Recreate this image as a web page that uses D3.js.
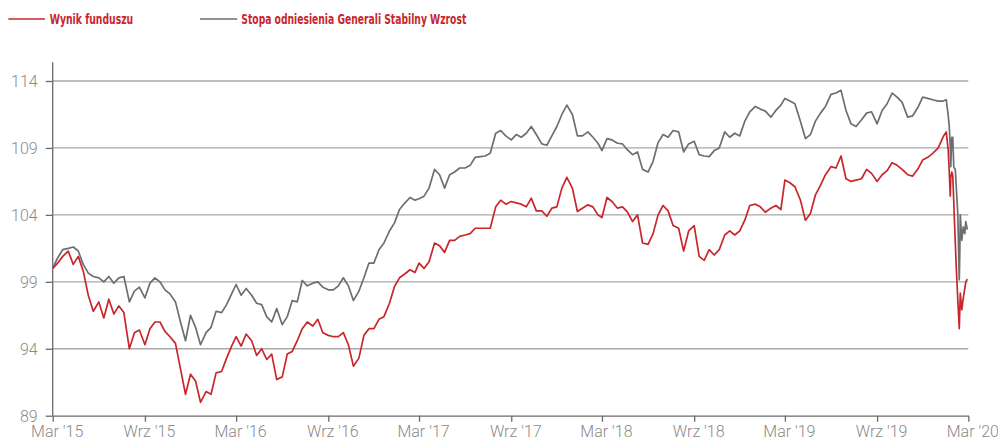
<!DOCTYPE html>
<html><head><meta charset="utf-8">
<script src="https://cdn.jsdelivr.net/npm/d3@7"></script>
<style>body{margin:0;background:#fff} svg{display:block}</style>
</head><body><svg id="c" width="998" height="441"></svg>
<script>
const seriesNames = ["Wynik funduszu", "Stopa odniesienia Generali Stabilny Wzrost"];
const yTicks = [89, 94, 99, 104, 109, 114];
const xTickDates = ["2015-03-01","2015-09-01","2016-03-01","2016-09-01","2017-03-01","2017-09-01","2018-03-01","2018-09-01","2019-03-01","2019-09-01","2020-03-01"];
const xTickLabels = ["Mar '15","Wrz '15","Mar '16","Wrz '16","Mar '17","Wrz '17","Mar '18","Wrz '18","Mar '19","Wrz '19","Mar '20"];
// sampling days within each month, Mar 2015 - Dec 2019
const sampleDays = [1, 11, 21];
const extraDates = ["2020-01-01","2020-01-11","2020-01-17","2020-01-21","2020-01-23","2020-01-25","2020-01-26","2020-01-28","2020-01-30","2020-02-01","2020-02-02","2020-02-04","2020-02-06","2020-02-09","2020-02-12","2020-02-13","2020-02-14","2020-02-17","2020-02-20","2020-02-23","2020-02-25","2020-02-28"];

const fund = [
100.0,100.4,100.9, 101.3,100.3,100.9, 99.8,98.0,96.8, 97.5,96.3,97.7, 96.6,97.2,96.7, 94.0,95.2,95.4,
94.3,95.5,96.0, 96.0,95.3,94.9, 94.4,92.5,90.6, 92.1,91.6,90.0, 90.8,90.6,92.2, 92.3,93.3,94.2,
94.9,94.2,95.1, 94.6,93.5,94.0, 93.2,93.6,91.7, 91.9,93.6,93.8, 94.6,95.5,96.0, 95.7,96.2,95.2,
95.0,94.9,94.9, 95.2,94.3,92.7, 93.3,95.0,95.5, 95.5,96.2,96.4, 97.4,98.65,99.3, 99.6,99.9,99.7,
100.4,100.0,100.5, 101.9,101.7,101.2, 102.1,102.1,102.4, 102.5,102.6,103.0, 103.0,103.0,103.0, 104.6,105.1,104.8,
105.0,104.9,104.8, 104.6,105.25,104.3, 104.3,103.9,104.5, 104.6,106.0,106.8, 106.0,104.25,104.5, 104.75,104.6,104.0,
103.8,105.3,105.0, 104.5,104.6,104.2, 103.5,104.0,101.9, 101.8,102.6,104.0, 104.7,104.3,103.2, 103.0,101.3,102.8,
103.2,100.9,100.6, 101.4,101.0,101.4, 102.5,102.8,102.5, 102.8,103.6,104.7, 104.8,104.6,104.2, 104.5,104.7,104.4,
106.6,106.4,106.1, 105.1,103.6,104.1, 105.5,106.2,107.0, 107.6,107.5,108.4, 106.7,106.5,106.6, 106.7,107.4,107.1,
106.5,107.0,107.3, 107.9,107.7,107.4, 107.0,106.9,107.4, 108.1,108.3,108.6,
109.0,109.85,110.2,108.8,107.2,105.4,106.8,107.2,106.9,105.0,103.9,102.0,100.1,97.7,95.5,96.8,98.15,96.9,97.8,98.5,99.0,99.2
];
const bench = [
100.0,100.8,101.4, 101.5,101.6,101.3, 100.3,99.65,99.4, 99.3,99.0,99.4, 98.9,99.3,99.4, 97.5,98.3,98.6,
97.8,98.9,99.3, 99.0,98.4,98.1, 97.5,96.0,94.6, 96.5,95.6,94.3, 95.2,95.6,96.8, 96.7,97.3,98.1,
98.8,98.0,98.5, 98.0,97.4,97.3, 96.4,96.0,97.0, 95.8,96.4,97.6, 97.5,99.1,98.7, 98.9,99.0,98.6,
98.4,98.4,98.7, 99.3,98.7,97.6, 98.3,99.3,100.4, 100.4,101.4,101.9, 102.8,103.4,104.4, 104.9,105.3,105.1,
105.2,105.4,106.0, 107.4,107.0,106.0, 107.0,107.2,107.5, 107.5,107.7,108.3, 108.35,108.4,108.6, 110.1,110.3,109.9,
109.6,110.0,109.8, 110.1,110.6,110.0, 109.3,109.2,109.9, 110.6,111.5,112.2, 111.5,109.9,109.9, 110.2,109.8,109.35,
108.8,109.7,109.6, 109.35,109.3,108.85, 108.5,108.7,107.4, 107.2,108.0,109.4, 110.0,109.8,110.3, 110.2,108.7,109.3,
109.5,108.5,108.4, 108.35,108.8,109.0, 110.2,109.8,110.1, 109.9,111.0,111.7, 112.1,111.9,111.75, 111.3,111.8,112.2,
112.7,112.5,112.3, 111.0,109.7,110.0, 111.0,111.6,112.1, 113.0,113.1,113.3, 111.8,110.8,110.6, 111.1,111.6,111.7,
110.8,111.8,112.3, 113.1,112.8,112.4, 111.3,111.4,112.0, 112.8,112.7,112.6,
112.5,112.5,112.6,111.4,110.6,109.1,107.6,109.8,109.8,107.6,107.5,107.4,106.1,104.1,99.15,101.1,104.0,102.1,103.1,102.6,103.5,102.9
];

const parse = d3.timeParse("%Y-%m-%d");
const months = d3.timeMonths(new Date(2015, 2, 1), new Date(2020, 0, 1));
const dates = [];
months.forEach(m => sampleDays.forEach(d => dates.push(new Date(m.getFullYear(), m.getMonth(), d))));
extraDates.forEach(s => dates.push(parse(s)));

const svg = d3.select("#c");
const x = d3.scaleTime().domain([parse("2015-03-01"), parse("2020-03-01")]).range([52.7, 968.3]);
const y = d3.scaleLinear().domain([89, 114]).range([415.7, 81]);

const red = "#c9262c", gray = "#6d6e71", grid = "#a9a9a9", axisCol = "#6a6a6a", txt = "#8a8a8a";
const tickFont = "Roboto, 'Liberation Sans', Arial, sans-serif";

// grid lines
svg.append("g").selectAll("line").data(yTicks.slice(1)).join("line")
  .attr("x1", x.range()[0]).attr("x2", x.range()[1])
  .attr("y1", d => y(d)).attr("y2", d => y(d))
  .attr("stroke", grid).attr("stroke-width", 1.3);

// y axis
const yAxis = d3.axisLeft(y).tickValues(yTicks).tickSize(7).tickPadding(8).tickSizeOuter(0);
const gy = svg.append("g").attr("transform", `translate(${x.range()[0]},0)`).call(yAxis);
gy.select(".domain").remove();
gy.append("line").attr("x1", 0).attr("x2", 0).attr("y1", y(115.4)).attr("y2", y(89))
  .attr("stroke", axisCol).attr("stroke-width", 1.3);
gy.selectAll(".tick line").attr("stroke", axisCol).attr("stroke-width", 1.3);
gy.selectAll(".tick text").attr("fill", txt).attr("font-size", 16).attr("font-weight", 300)
  .attr("font-family", tickFont).attr("dy", "0.34em");

// x axis
const xAxis = d3.axisBottom(x).tickValues(xTickDates.map(parse))
  .tickFormat((d, i) => xTickLabels[i]).tickSize(6).tickPadding(4).tickSizeOuter(0);
const gx = svg.append("g").attr("transform", `translate(0,${y(89)})`).call(xAxis);
gx.select(".domain").attr("stroke", axisCol).attr("stroke-width", 1.3);
gx.selectAll(".tick line").attr("stroke", axisCol).attr("stroke-width", 1.3);
gx.selectAll(".tick text").attr("fill", txt).attr("font-size", 16).attr("font-weight", 300)
  .attr("font-family", tickFont).attr("dx", 4).attr("dy", "0.72em");

// lines
const line = vals => d3.line().x((d, i) => x(dates[i])).y(d => y(d))(vals);
svg.append("path").attr("d", line(bench)).attr("fill", "none").attr("stroke", gray)
  .attr("stroke-width", 1.7).attr("stroke-linejoin", "round");
svg.append("path").attr("d", line(fund)).attr("fill", "none").attr("stroke", red)
  .attr("stroke-width", 1.7).attr("stroke-linejoin", "round");

// legend
const legFont = "'Liberation Sans Narrow', 'DejaVu Sans Condensed', 'Arial Narrow', sans-serif";
const legend = [
  {name: seriesNames[0], color: red, x1: 8.3, x2: 45, tx: 49.7, w: 83.5},
  {name: seriesNames[1], color: gray, x1: 200, x2: 237.3, tx: 241.3, w: 225}
];
const lg = svg.append("g");
legend.forEach(l => {
  lg.append("line").attr("x1", l.x1).attr("x2", l.x2).attr("y1", 19).attr("y2", 19)
    .attr("stroke", l.color).attr("stroke-width", 1.6);
  lg.append("text").attr("x", l.tx).attr("y", 23.5).text(l.name)
    .attr("fill", red).attr("font-family", legFont).attr("font-weight", "bold").attr("font-size", 13.5)
    .attr("textLength", l.w).attr("lengthAdjust", "spacingAndGlyphs");
});
</script></body></html>
